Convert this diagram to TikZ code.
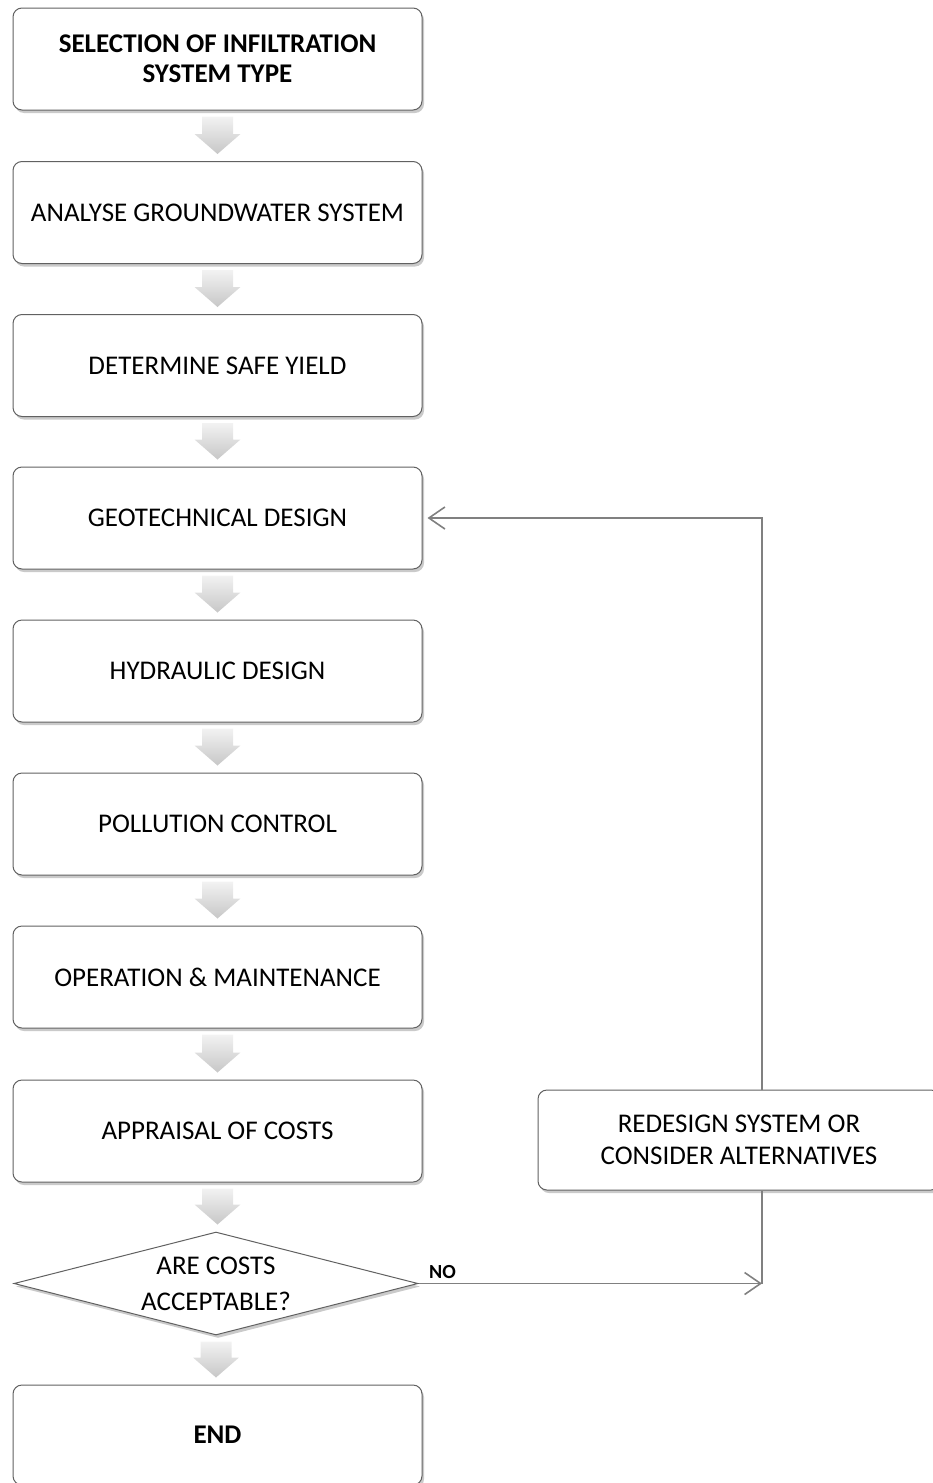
\documentclass[tikz,border=0pt]{standalone}
\usepackage{fontspec}
\setmainfont{Carlito}
\usetikzlibrary{shapes.geometric,shadows,calc,arrows.meta}
\tikzset{
  procbox/.style={draw=black!62, line width=1pt, fill=white, rounded corners=9pt,
    minimum width=409pt, minimum height=102pt, inner sep=0pt, align=center,
    font=\fontsize{27}{32}\selectfont,
    drop shadow={shadow xshift=2pt, shadow yshift=-3pt, opacity=0.35, fill=black!60}},
  decbox/.style={draw=black!62, line width=1pt, fill=white, diamond, aspect=3.9,
    minimum width=404pt, minimum height=103pt, inner sep=0pt, align=center,
    font=\fontsize{27}{36}\selectfont,
    drop shadow={shadow xshift=2pt, shadow yshift=-3pt, opacity=0.35, fill=black!60}},
  blockarrow/.style={top color=black!5, bottom color=black!22, draw=none},
  conn/.style={draw=black!50, line width=1.6pt},
  barb/.style={-{Straight Barb[length=16pt,width=22pt,line width=1.6pt]}}
}
\newcommand\blockarr[2]{%
  \path[blockarrow] let \p1=(#1.south), \p2=(#2.north) in
    (\x1-15.5pt,\y1-6pt) -- (\x1+15.5pt,\y1-6pt) -- (\x1+15.5pt,\y2+27pt) --
    (\x1+23pt,\y2+27pt) -- (\x1,\y2+7pt) -- (\x1-23pt,\y2+27pt) --
    (\x1-15.5pt,\y2+27pt) -- cycle;}
\begin{document}
\begin{tikzpicture}[x=1pt,y=-1pt]
\useasboundingbox (0,0) rectangle (933,1483);
\node[procbox,font=\fontsize{27}{30}\selectfont\bfseries] (s1) at (217.5,59) {SELECTION OF INFILTRATION\\SYSTEM TYPE};
\node[procbox] (s2) at (217.5,212.5) {ANALYSE GROUNDWATER SYSTEM};
\node[procbox] (s3) at (217.5,365.5) {DETERMINE SAFE YIELD};
\node[procbox] (s4) at (217.5,518) {GEOTECHNICAL DESIGN};
\node[procbox] (s5) at (217.5,671) {HYDRAULIC DESIGN};
\node[procbox] (s6) at (217.5,824) {POLLUTION CONTROL};
\node[procbox] (s7) at (217.5,977) {OPERATION \& MAINTENANCE};
\node[procbox] (s8) at (217.5,1131) {APPRAISAL OF COSTS};
\node[decbox] (dec) at (216,1283.5) {ARE COSTS\\ACCEPTABLE?};
\node[procbox,font=\fontsize{27}{32}\selectfont\bfseries,minimum height=100pt] (end) at (217.5,1435) {END};
\node[procbox,minimum width=402pt,minimum height=100pt] (redo) at (739,1140) {REDESIGN SYSTEM OR\\CONSIDER ALTERNATIVES};
\blockarr{s1}{s2}
\blockarr{s2}{s3}
\blockarr{s3}{s4}
\blockarr{s4}{s5}
\blockarr{s5}{s6}
\blockarr{s6}{s7}
\blockarr{s7}{s8}
\blockarr{s8}{dec}
\blockarr{dec}{end}
\coordinate (vx) at (762,0);
\draw[conn,barb,shorten >=5pt] (redo.north -| vx) |- (s4.east);
\draw[conn] (redo.south -| vx) -- (dec.east -| vx);
\draw[conn,barb] (dec.east) -- node[pos=0.07,above=1pt,anchor=south,font=\fontsize{20}{22}\selectfont\bfseries,text=black] (no) {NO} (dec.east -| vx);
\end{tikzpicture}
\end{document}
